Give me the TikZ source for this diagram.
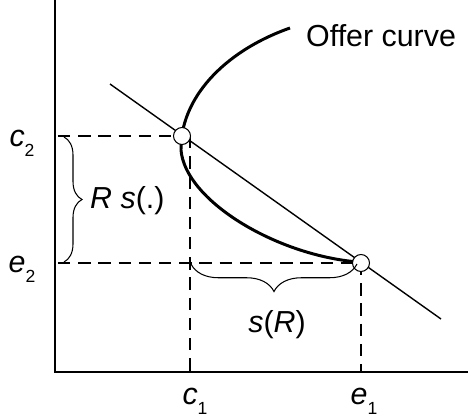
\documentclass[tikz,border=0pt]{standalone}
\usepackage{fontspec}
\setmainfont{Liberation Sans}
\usetikzlibrary{decorations.pathreplacing}
\newcommand{\idx}[2]{\textit{#1}\raisebox{-5.5pt}{\fontsize{10}{10}\selectfont #2}}
\begin{document}
\begin{tikzpicture}[x=0.02cm,y=-0.02cm,
  guide/.style={dash pattern=on 7pt off 4.5pt,line width=0.8pt},
  dot/.style={circle,draw,fill=white,inner sep=0pt,minimum size=0.34cm,line width=0.6pt},
  lbl/.style={font=\fontsize{17.3}{19}\selectfont}]
  \useasboundingbox (0,0) rectangle (468,416);
  % guide lines
  \draw[guide] (58,136) -- (182,136);
  \draw[guide] (190,136) -- (190,372);
  \draw[guide] (58,263) -- (361,263);
  \draw[guide] (361,263) -- (361,372);
  % budget line
  \draw[line width=0.8pt] (110,84) -- (441,319);
  % offer curve
  \draw[line width=1.7pt] (290,28) .. controls (222,52) and (180,100) .. (181,150)
        .. controls (185,200) and (275,255) .. (358,262);
  % axes
  \draw[line width=1.7pt] (55,0) -- (55,372) -- (468,372);
  % points
  \node[dot] (c) at (182,136) {};
  \node[dot] (e) at (361,263) {};
  % braces
  \draw[line width=0.6pt,decorate,decoration={brace,amplitude=0.36cm}] (64,137) -- (64,262);
  \draw[line width=0.6pt,decorate,decoration={brace,amplitude=0.55cm}] (357,264) -- (191,264);
  % labels
  \node[lbl,anchor=west] (offer) at (300,36) {Offer curve};
  \node[lbl,anchor=west] (rs) at (84,201) {\textit{R s}(.)};
  \node[lbl] (sr) at (277,325) {\textit{s}(\textit{R})};
  \node[lbl] (c2) at (22,143) {\idx{c}{2}};
  \node[lbl] (e2) at (22,269) {\idx{e}{2}};
  \node[lbl] (c1) at (195,401) {\idx{c}{1}};
  \node[lbl] (e1) at (364,401) {\idx{e}{1}};
\end{tikzpicture}
\end{document}
